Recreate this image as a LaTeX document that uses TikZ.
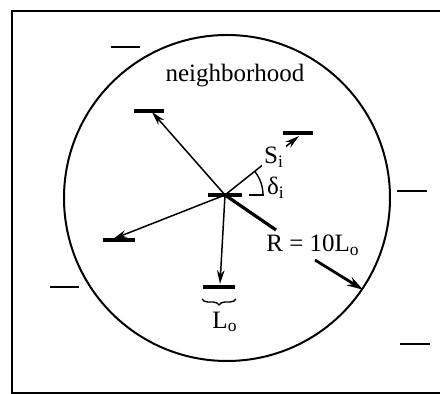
\documentclass[tikz,border=0pt]{standalone}
\usepackage{fontspec}
\setmainfont{Liberation Serif}
\usetikzlibrary{arrows.meta, decorations.pathreplacing}

\begin{document}
\begin{tikzpicture}[x=0.5pt, y=-0.5pt, font=\fontsize{12.5}{14}\selectfont,
    vec/.style={line width=0.75pt, -{Stealth[length=7pt, width=3.8pt]}},
    seg/.style={line width=1.6pt},
    far/.style={line width=0.9pt}]
    \useasboundingbox (0,0) rectangle (440,394);
    \draw[line width=0.7pt] (450,11) -- (12,11) -- (12,393) -- (450,393);
    \node[circle, draw, line width=1pt, minimum size=163pt, inner sep=0pt] (nbhd) at (227,198) {};
    \node (title) at (235,76) {neighborhood};
    \coordinate (O) at (225,195);
    % segments inside the neighborhood
    \coordinate (A) at (149,111);
    \coordinate (B) at (298,133);
    \coordinate (C) at (119,240);
    \coordinate (D) at (219,287);
    \draw[seg] (A) +(-15,0) -- +(15,0);
    \draw[seg] (B) +(-15,0) -- +(15,0);
    \draw[seg] (C) +(-16,0) -- +(16,0);
    \draw[seg] (D) +(-16,0) -- +(16,0);
    \draw[line width=2.2pt] (O) +(-17,0) -- +(17,0);
    % segments outside
    \draw[far] (111,47) -- (140,47);
    \draw[far] (397,191) -- (427,191);
    \draw[far] (50,287) -- (79,287);
    \draw[far] (400,344) -- (430,344);
    % separation vectors
    \coordinate (tA) at (152,112);
    \coordinate (tB) at (299,136);
    \coordinate (tC) at (113,239);
    \coordinate (tD) at (220,284);
    \draw[vec] (O) -- (tA);
    \draw[vec] (O) -- (tC);
    \draw[vec] (O) -- (tD);
    \draw[vec] (O) -- (tB);
    \node[fill=white, inner sep=1pt] (S) at (274,157) {S\textsubscript{i}};
    % angle
    \coordinate (h1) at (249,195);
    \coordinate (h2) at (264,195);
    \draw[line width=0.7pt] (h1) -- (h2);
    \draw[line width=0.7pt] (O) ++(38,0) arc[start angle=0, end angle=-38.6, radius=38];
    \node (delta) at (276,188) {δ\textsubscript{i}};
    % radius
    \coordinate (rEnd) at (276,230);
    \draw[seg] (O) -- (rEnd);
    \node (R) at (313,245) {R = 10L\textsubscript{o}};
    \coordinate (rStart) at (315,260);
    \draw[line width=1.4pt, -{Stealth[length=8pt, width=4.8pt]}] (rStart) -- (nbhd.-34.5);
    % length of a segment
    \coordinate (bL) at (202,299);
    \coordinate (bR) at (236,299);
    \draw[line width=0.7pt, decorate, decoration={brace, mirror, amplitude=3pt}] (bL) -- (bR);
    \node (L) at (225,322) {L\textsubscript{o}};
\end{tikzpicture}
\end{document}
